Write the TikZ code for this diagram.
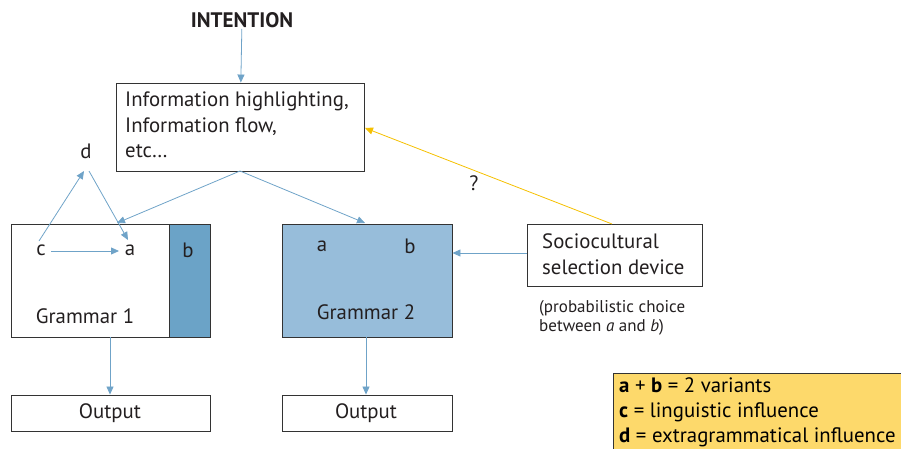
\documentclass[tikz,border=0pt]{standalone}
\usepackage{fontspec}
\setmainfont{PT Sans}
\usetikzlibrary{arrows.meta,calc}
\definecolor{arrblue}{HTML}{6FA3C8}
\definecolor{darkb}{HTML}{6BA3C7}
\definecolor{lightb}{HTML}{97BDDA}
\definecolor{yel}{HTML}{F5C000}
\definecolor{legy}{HTML}{FDD96B}
\definecolor{bord}{HTML}{333333}
\definecolor{txt}{HTML}{231F20}
\tikzset{
  box/.style={draw=bord,line width=0.9pt,inner sep=0pt},
  conn/.style={draw=arrblue,line width=0.8pt,-{Triangle[length=8pt,width=7pt]}},
  yconn/.style={draw=yel,line width=0.8pt,-{Triangle[length=8pt,width=7pt]}},
  lbl/.style={font=\fontsize{20.8}{25.5}\selectfont,text=txt,inner sep=1pt},
  small/.style={font=\fontsize{17}{19}\selectfont,text=txt,inner sep=0pt,align=left},
}
\begin{document}
\begin{tikzpicture}[x=1pt,y=-1pt]
\useasboundingbox (0,0) rectangle (901,449);
% intention
\node[lbl,font=\fontsize{21}{25}\selectfont\bfseries] (int) at (242,20) {INTENTION};
% info box
\node[box,minimum width=248pt,minimum height=88pt] (info) at (240,127) {};
\node[lbl,anchor=west,align=left] (infot) at (124,125) {Information highlighting,\\Information flow,\\etc\ldots};
% grammar 1
\node[box,minimum width=199pt,minimum height=113pt] (g1) at (110.5,280.5) {};
\node[box,fill=darkb,minimum width=41pt,minimum height=113pt] (g1b) at (189.5,280.5) {};
\node[lbl] (b1) at (188,250) {b};
\node[lbl] (c1) at (41,250) {c};
\node[lbl] (a1) at (130,250) {a};
\node[lbl] (d1) at (86,151) {d};
\node[lbl] (gr1) at (85,316) {Grammar 1};
% grammar 2
\node[box,fill=lightb,minimum width=170pt,minimum height=113pt] (g2) at (367,280.5) {};
\node[lbl] (a2) at (322,246) {a};
\node[lbl] (b2) at (410,246) {b};
\node[lbl] (gr2) at (366,312) {Grammar 2};
% sociocultural
\node[box,minimum width=175pt,minimum height=62pt] (soc) at (614.5,255) {};
\node[lbl,anchor=west,align=left] (soct) at (541,254) {Sociocultural\\selection device};
\node[small,anchor=west] (prob) at (539,318) {(probabilistic choice\\between \textit{a} and \textit{b})};
\node[lbl] (q) at (474,183) {?};
% outputs
\node[box,minimum width=199pt,minimum height=36pt] (o1) at (110.5,413) {};
\node[lbl] (o1t) at (110,413) {Output};
\node[box,minimum width=170pt,minimum height=36pt] (o2) at (367,413) {};
\node[lbl] (o2t) at (366,413) {Output};
% legend
\node[box,fill=legy,minimum width=292pt,minimum height=80pt,anchor=north west] (leg) at (613,373) {};
\node[anchor=west,align=left,inner sep=0pt,text=black,font=\fontsize{20.8}{25}\selectfont] (legt) at (619,412)
 {\textbf{a} + \textbf{b} = 2 variants\\\textbf{c} = linguistic influence\\\textbf{d} = extragrammatical influence};
% coordinates
\coordinate (infob) at (240,171);
\coordinate (g1top) at (117,223);
\coordinate (g2top) at (365,223);
\coordinate (socy) at (612,224);
\coordinate (infor) at (365,128);
\coordinate (cs) at (39,241);
\coordinate (dt) at (84,171);
\coordinate (ds) at (89,171);
\coordinate (at) at (128,240);
% connectors
\draw[conn] (int) -- (info);
\draw[conn] (infob) -- (g1top);
\draw[conn] (infob) -- (g2top);
\draw[conn] (cs) -- (dt);
\draw[conn] (ds) -- (at);
\draw[conn] (51,251) -- (119,251);
\draw[conn] (soc.west |- 0,253) -- (g2.east |- 0,253);
\draw[yconn] (socy) -- (infor);
\draw[conn] (g1.south -| 110,0) -- (o1.north -| 110,0);
\draw[conn] (g2.south -| 366,0) -- (o2.north -| 366,0);
\end{tikzpicture}
\end{document}
